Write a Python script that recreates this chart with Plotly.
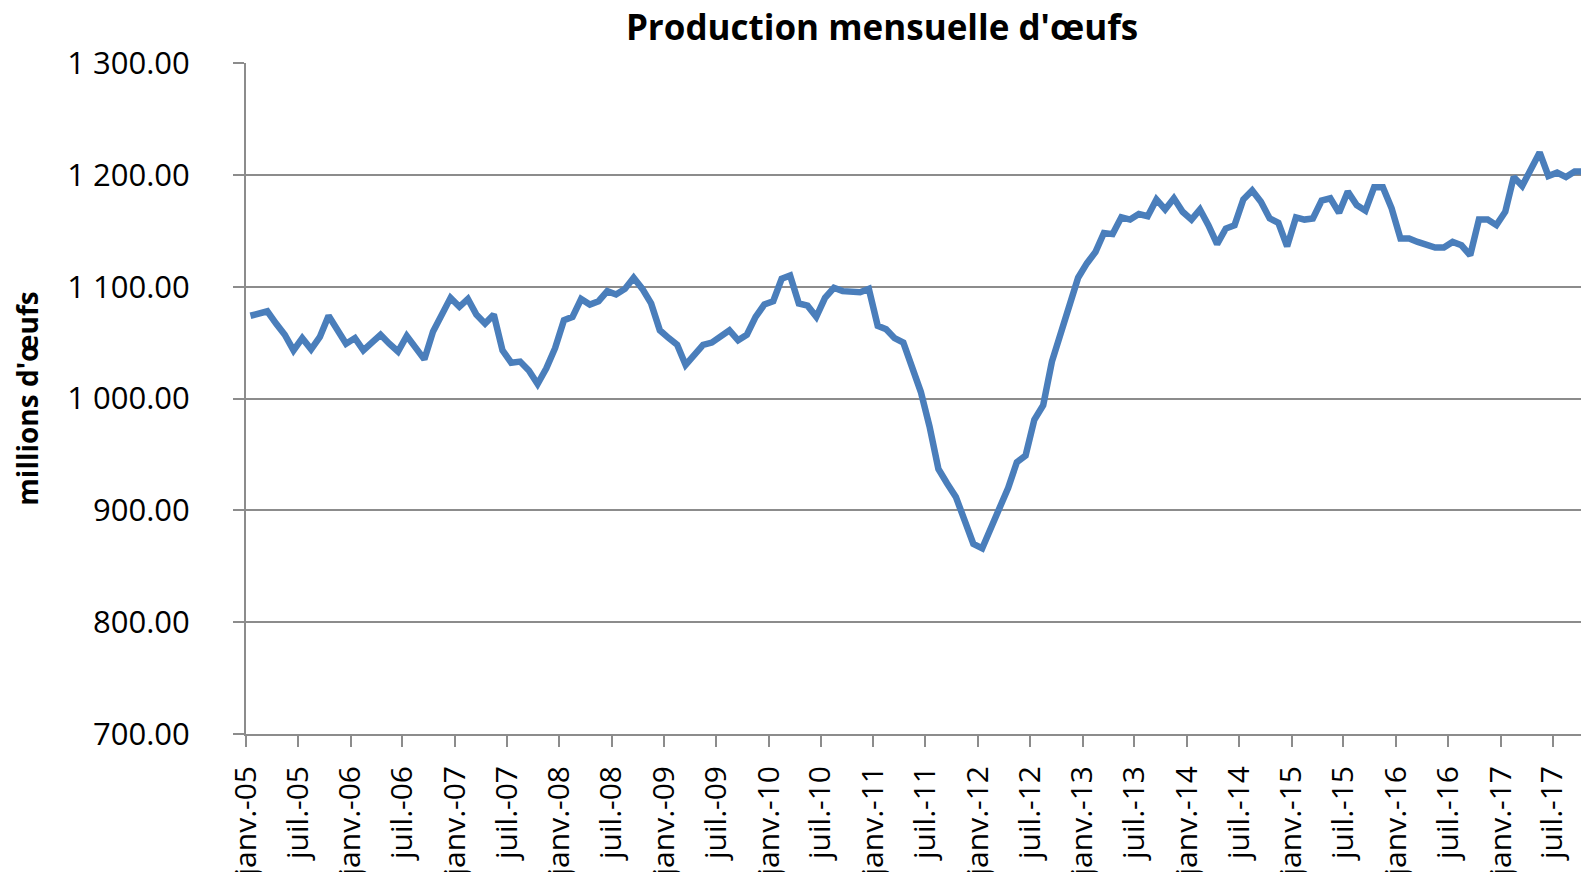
import pandas as pd
import plotly.graph_objects as go

# Monthly egg production (millions), starting January 2005
start_month = "2005-01-01"
production = [
    1074, 1076, 1078, 1067, 1057, 1043, 1054, 1044, 1055, 1074, 1061, 1049,  # 2005
    1054, 1043, 1050, 1057, 1049, 1042, 1056, 1046, 1035, 1060, 1075, 1090,  # 2006
    1082, 1089, 1075, 1067, 1075, 1043, 1032, 1033, 1025, 1013, 1027, 1045,  # 2007
    1070, 1073, 1089, 1084, 1087, 1096, 1093, 1098, 1108, 1098, 1085, 1061,  # 2008
    1054, 1048, 1030, 1039, 1048, 1050, 1055, 1061, 1052, 1057, 1073, 1084,  # 2009
    1087, 1107, 1110, 1085, 1083, 1073, 1090, 1099, 1096, 1095, 1095, 1098,  # 2010
    1065, 1062, 1054, 1050, 1028, 1006, 975, 937, 924, 912, 891, 870,        # 2011
    866, 884, 899, 920, 943, 949, 981, 994, 1033, 1058, 1086, 1108,          # 2012
    1121, 1131, 1148, 1147, 1162, 1160, 1165, 1163, 1178, 1169, 1179, 1167,  # 2013
    1160, 1169, 1155, 1138, 1152, 1155, 1178, 1186, 1176, 1161, 1157, 1136,  # 2014
    1162, 1160, 1161, 1177, 1179, 1166, 1185, 1173, 1168, 1189, 1189, 1170,  # 2015
    1143, 1143, 1140, 1138, 1135, 1135, 1140, 1137, 1128, 1160, 1160, 1155,  # 2016
    1167, 1198, 1190, 1205, 1220, 1199, 1202, 1198, 1203, 1203,              # 2017
]

month_abbr = ["janv.", "juil."]
tick_years = list(range(2005, 2018))

# Points sit in the middle of each month (Excel date axis, between tick marks)
month_starts = pd.date_range(start_month, periods=len(production) + 1, freq="MS")
dates = [month_starts[i] + (month_starts[i + 1] - month_starts[i]) / 2 for i in range(len(production))]

tickvals, ticktext = [], []
for yr in tick_years:
    for m, ab in zip([1, 7], month_abbr):
        tickvals.append(f"{yr}-{m:02d}-01")
        ticktext.append(f"{ab}-{yr % 100:02d}")

FONT = "Open Sans"
GRID = "#8c8c8c"

fig = go.Figure(
    go.Scatter(
        x=dates, y=production, mode="lines",
        line=dict(color="#4a7ebb", width=6.5),
        hoverinfo="x+y",
    )
)

fig.update_layout(
    width=1581, height=872,
    margin=dict(l=246, r=0, t=63, b=138, autoexpand=False),
    paper_bgcolor="white", plot_bgcolor="white",
    separators=". ",
    showlegend=False,
    title=dict(
        text="<b>Production mensuelle d'œufs</b>",
        x=882 / 1581, xref="container", xanchor="center",
        y=1 - 28 / 872, yref="container", yanchor="middle",
        font=dict(family=FONT, size=35, color="black"),
    ),
    font=dict(family=FONT, color="black"),
)

fig.update_yaxes(
    range=[700, 1300], dtick=100, tickformat=",.2f",
    automargin=False,
    showgrid=True, gridcolor=GRID, gridwidth=2,
    showline=True, linecolor=GRID, linewidth=2,
    ticks="outside", ticklen=11, tickwidth=2, tickcolor=GRID,
    ticklabelstandoff=37,
    tickfont=dict(family=FONT, size=31, color="black"),
    zeroline=False,
    title=dict(text="<b>millions d'œufs</b>", standoff=20,
               font=dict(family=FONT, size=28, color="black")),
)

fig.update_xaxes(
    type="date",
    range=["2005-01-01", "2017-10-08"],
    automargin=False,
    tickmode="array", tickvals=tickvals, ticktext=ticktext,
    tickangle=-90,
    showgrid=False, zeroline=False,
    showline=True, linecolor=GRID, linewidth=2,
    ticks="outside", ticklen=11, tickwidth=2, tickcolor=GRID,
    ticklabelstandoff=7,
    tickfont=dict(family=FONT, size=30, color="black"),
)

fig.write_html(
    "out.html",
    config={"displayModeBar": False},
    post_script="document.body.style.margin='0px'; document.body.style.overflow='hidden';",
)
